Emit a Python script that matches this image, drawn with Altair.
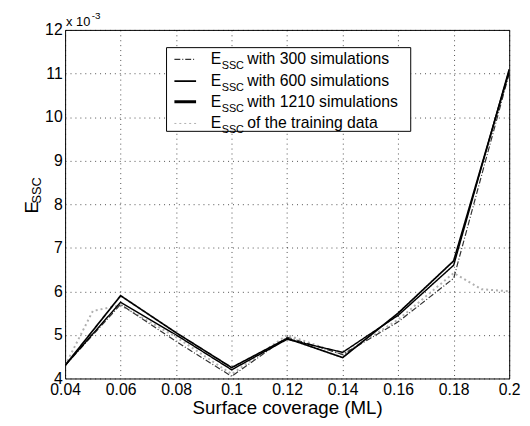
import altair as alt
import pandas as pd

coverage = [0.04, 0.06, 0.08, 0.10, 0.12, 0.14, 0.16, 0.18, 0.20]
e300 = [4.30, 5.70, 4.85, 4.05, 4.95, 4.55, 5.30, 6.30, 11.00]
e600 = [4.30, 5.75, 5.00, 4.20, 4.90, 4.60, 5.45, 6.60, 11.10]
e1210 = [4.30, 5.90, 5.05, 4.25, 4.92, 4.48, 5.50, 6.70, 11.05]
train_x = [0.04, 0.05, 0.06, 0.08, 0.10, 0.12, 0.14, 0.16, 0.18, 0.19, 0.20]
train_y = [4.30, 5.55, 5.68, 4.95, 4.10, 5.00, 4.55, 5.35, 6.42, 6.05, 6.00]

series_names = ["with 300 simulations", "with 600 simulations",
                "with 1210 simulations", "of the training data"]
colors = ["#333333", "#000000", "#000000", "#b0b0b0"]
widths = [1.2, 2.0, 3.0, 1.0]
dashes = [[6, 2, 1, 2], [1, 0], [1, 0], [2, 3]]

rows = []
for x, y in zip(train_x, train_y):
    rows.append({"x": x, "y": y, "s": series_names[3]})
for vals, name in [(e300, series_names[0]), (e600, series_names[1]), (e1210, series_names[2])]:
    for x, y in zip(coverage, vals):
        rows.append({"x": x, "y": y, "s": name})
df = pd.DataFrame(rows)

FONT = "Liberation Sans"
W, H = 451, 354

xs = alt.X("x:Q", scale=alt.Scale(domain=[0.04, 0.2], nice=False),
           axis=alt.Axis(values=coverage, format=".2~f", title="Surface coverage (ML)",
                         titleFontSize=19, titleFontWeight="normal", titlePadding=2,
                         labelFontSize=16, labelPadding=3, ticks=False, labelColor="black",
                         titleColor="black", labelFlush=False))
ys = alt.Y("y:Q", scale=alt.Scale(domain=[4, 12], nice=False),
           axis=alt.Axis(values=list(range(4, 13)), format="d", title=None,
                         labelFontSize=16, labelPadding=3, ticks=False, labelColor="black"))

lines = alt.Chart(df).mark_line(clip=True).encode(
    x=xs, y=ys,
    color=alt.Color("s:N", scale=alt.Scale(domain=series_names, range=colors), legend=None),
    strokeWidth=alt.StrokeWidth("s:N", scale=alt.Scale(domain=series_names, range=widths), legend=None),
    strokeDash=alt.StrokeDash("s:N", scale=alt.Scale(domain=series_names, range=dashes), legend=None),
    order=alt.Order("x:Q"),
    detail="s:N",
)

one = pd.DataFrame({"k": [0]})
layers = [lines]

# legend box
layers.append(alt.Chart(one).mark_rect(fill="white", stroke="black", strokeWidth=1).encode(
    x=alt.value(103), x2=alt.value(351), y=alt.value(18), y2=alt.value(103)))

row_y = [30, 52, 73, 95]
for i, name in enumerate(series_names):
    yy = row_y[i]
    layers.append(alt.Chart(one).mark_rule(color=colors[i], strokeWidth=widths[i],
                                           strokeDash=dashes[i]).encode(
        x=alt.value(111), x2=alt.value(133), y=alt.value(yy)))
    layers.append(alt.Chart(pd.DataFrame({"t": ["E"]})).mark_text(
        font=FONT, fontSize=16, align="left", baseline="middle", color="black").encode(
        x=alt.value(148), y=alt.value(yy), text="t:N"))
    layers.append(alt.Chart(pd.DataFrame({"t": ["SSC"]})).mark_text(
        font=FONT, fontSize=11, align="left", baseline="middle", color="black").encode(
        x=alt.value(159), y=alt.value(yy + 7), text="t:N"))
    layers.append(alt.Chart(pd.DataFrame({"t": [name]})).mark_text(
        font=FONT, fontSize=16, align="left", baseline="middle", color="black").encode(
        x=alt.value(185), y=alt.value(yy), text="t:N"))

# exponent annotation
layers.append(alt.Chart(pd.DataFrame({"t": ["x 10"]})).mark_text(
    font=FONT, fontSize=13, align="left", baseline="middle", color="black").encode(
    x=alt.value(1), y=alt.value(-8), text="t:N"))
layers.append(alt.Chart(pd.DataFrame({"t": ["-3"]})).mark_text(
    font=FONT, fontSize=10, align="left", baseline="middle", color="black").encode(
    x=alt.value(27), y=alt.value(-14), text="t:N"))

# y-axis title E_SSC (rotated)
layers.append(alt.Chart(pd.DataFrame({"t": ["E"]})).mark_text(
    font=FONT, fontSize=19, angle=270, align="center", baseline="middle", color="black").encode(
    x=alt.value(-34), y=alt.value(180), text="t:N"))
layers.append(alt.Chart(pd.DataFrame({"t": ["SSC"]})).mark_text(
    font=FONT, fontSize=13, angle=270, align="center", baseline="middle", color="black").encode(
    x=alt.value(-28), y=alt.value(163), text="t:N"))

chart = alt.layer(*layers).properties(
    width=W, height=H,
    autosize=alt.AutoSizeParams(type="none"),
    padding={"left": 58, "top": 19, "right": 13, "bottom": 45},
    background="white",
).configure_view(stroke="black", strokeWidth=1).configure_axis(
    domain=False, gridColor="#000000", gridDash=[1, 4], gridOpacity=0.7, gridWidth=1,
    labelFont=FONT, titleFont=FONT,
)

chart.save("out.html", embed_options={"renderer": "svg", "actions": False})
